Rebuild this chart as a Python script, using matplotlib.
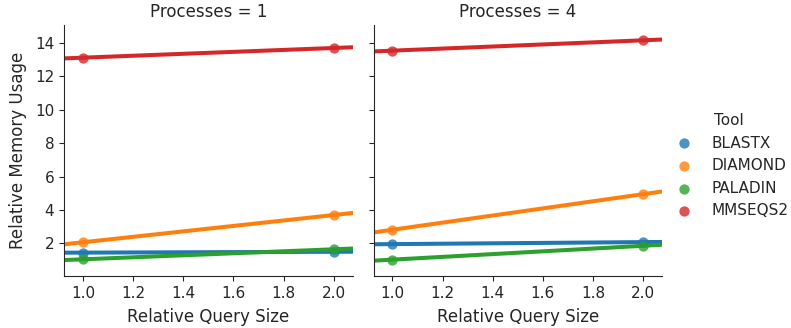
import numpy as np
import matplotlib
matplotlib.use("Agg")
import matplotlib.pyplot as plt
import seaborn as sns

sns.set_style("ticks")
plt.rcParams['font.family'] = ['DejaVu Sans']

tools = ['BLASTX', 'DIAMOND', 'PALADIN', 'MMSEQS2']
processes = [1, 4]
query_size = [1.0, 2.0]
# relative memory usage at query size 1.0 and 2.0, per tool
mem_p1 = {'BLASTX': [1.45, 1.50], 'DIAMOND': [2.07, 3.70],
          'PALADIN': [1.05, 1.65], 'MMSEQS2': [13.12, 13.70]}
mem_p4 = {'BLASTX': [1.96, 2.08], 'DIAMOND': [2.82, 4.95],
          'PALADIN': [1.03, 1.86], 'MMSEQS2': [13.54, 14.16]}
colors = ['#1f77b4', '#ff7f0e', '#2ca02c', '#d62728']

fig, axes = plt.subplots(1, 2, figsize=(7.91, 3.28), dpi=100, sharey=True)
fig.subplots_adjust(left=0.081, right=0.837, top=0.924, bottom=0.159, wspace=0.073)

fs = 12
xlim = (0.925, 2.075)
xx = np.array(xlim)
handles = []
for ax, p, data in zip(axes, processes, [mem_p1, mem_p4]):
    for tool, c in zip(tools, colors):
        y = data[tool]
        sc = ax.scatter(query_size, y, s=55, color=c, alpha=0.8, lw=0, zorder=3)
        k, b = np.polyfit(query_size, y, 1)
        ax.plot(xx, k * xx + b, color=c, lw=2.9, zorder=2)
        if p == 1:
            handles.append(sc)
    ax.set_xlim(*xlim)
    ax.set_ylim(0.06, 15.08)
    ax.set_xticks([1.0, 1.2, 1.4, 1.6, 1.8, 2.0])
    ax.set_yticks([2, 4, 6, 8, 10, 12, 14])
    ax.set_title('Processes = %d' % p, fontsize=fs, color='.15')
    ax.set_xlabel('Relative Query Size', fontsize=fs, color='.15', labelpad=5)
    ax.tick_params(labelsize=11, colors='.15')
    sns.despine(ax=ax)

axes[0].set_ylabel('Relative Memory Usage', fontsize=fs, color='.15', labelpad=6)

leg = fig.legend(handles, tools, title='Tool', loc='center left',
                 bbox_to_anchor=(0.8377, 0.495), borderaxespad=0, frameon=False,
                 fontsize=11, title_fontsize=11, handletextpad=0.81,
                 labelspacing=0.5)

fig.savefig('out.png', dpi=100)
